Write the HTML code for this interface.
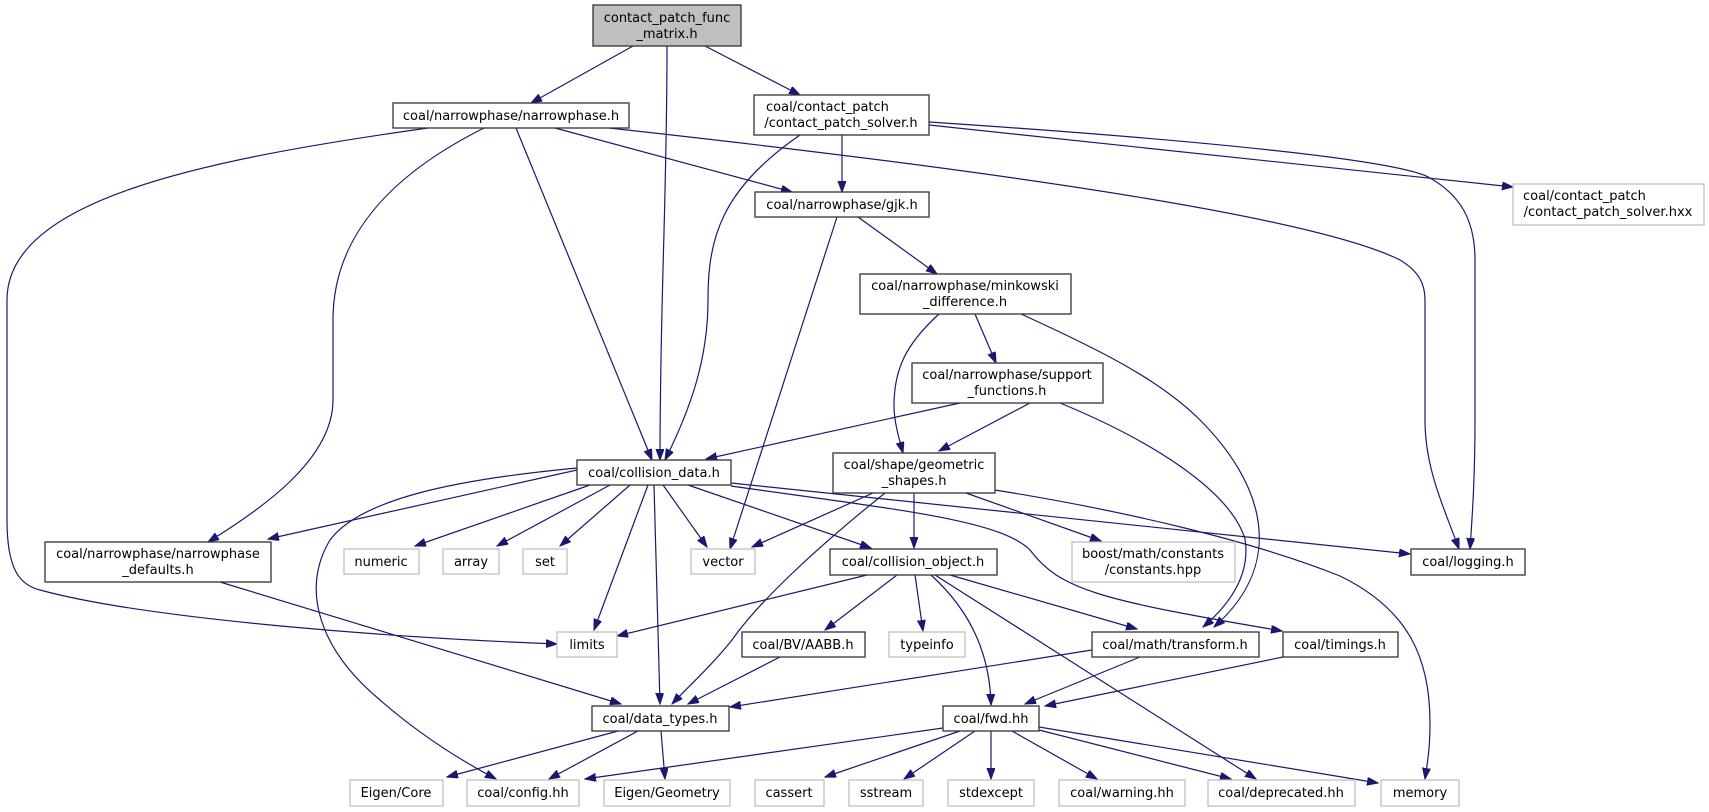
<!DOCTYPE html>
<html><head><meta charset="utf-8"><style>
html,body{margin:0;padding:0;background:#fff;}
svg{display:block;}
text{font-family:"DejaVu Sans","Liberation Sans",sans-serif;font-size:13px;fill:#000;text-anchor:middle;}
.n{fill:#fff;stroke:#333;stroke-width:1.3;}
.g{fill:#fff;stroke:#bfbfbf;stroke-width:1.3;}
.r{fill:#bfbfbf;stroke:#333;stroke-width:1.3;}
path.e{fill:none;stroke:#191970;stroke-width:1.2;marker-end:url(#a);}
</style></head><body>
<svg width="1709" height="812" viewBox="0 0 1709 812" xmlns="http://www.w3.org/2000/svg">
<defs><marker id="a" markerUnits="userSpaceOnUse" markerWidth="12" markerHeight="10" refX="11" refY="4" orient="auto"><path d="M0,0 L11,4 L0,8 z" fill="#191970" stroke="#191970"/></marker></defs>
<!-- edges -->
<path class="e" d="M633,46 L531,103"/>
<path class="e" d="M667,46 C667,200 660,300 660,460"/>
<path class="e" d="M705,46 L800,95"/>
<path class="e" d="M428,128 C200,160 7,200 7,300 L7,520 C7,570 20,585 40,590 C150,620 400,638 557,644"/>
<path class="e" d="M484,128 C400,170 333,230 333,320 L333,400 C333,460 260,510 208,542"/>
<path class="e" d="M516,128 L652,460"/>
<path class="e" d="M555,128 L792,192"/>
<path class="e" d="M609,128 C900,160 1300,210 1400,260 C1420,272 1425,285 1425,300 L1425,420 C1425,470 1445,510 1459,549"/>
<path class="e" d="M800,135 C720,190 708,240 708,300 C708,360 690,410 665,460"/>
<path class="e" d="M842,135 L842,192"/>
<path class="e" d="M929,122 C1200,140 1400,160 1430,178 C1460,195 1475,220 1475,260 L1475,420 C1475,480 1472,520 1470,549"/>
<path class="e" d="M929,125 L1513,187"/>
<path class="e" d="M837,217 L730,549"/>
<path class="e" d="M858,217 L937,274"/>
<path class="e" d="M939,314 C905,345 894,370 894,406 C894,420 898,435 903,453"/>
<path class="e" d="M975,314 L996,363"/>
<path class="e" d="M1021,314 C1100,350 1160,380 1200,420 C1260,480 1290,560 1214,627"/>
<path class="e" d="M1060,403 C1150,440 1230,490 1245,539 C1250,570 1235,600 1203,627"/>
<path class="e" d="M960,403 L706,459"/>
<path class="e" d="M1030,403 L939,451"/>
<path class="e" d="M577,470 L268,539"/>
<path class="e" d="M590,485 L415,546"/>
<path class="e" d="M610,485 L497,546"/>
<path class="e" d="M630,485 L560,546"/>
<path class="e" d="M577,468 C450,480 360,500 330,540 C300,590 320,650 380,700 C420,735 460,760 496,779"/>
<path class="e" d="M648,485 L594,630"/>
<path class="e" d="M654,485 L660,704"/>
<path class="e" d="M663,485 L707,547"/>
<path class="e" d="M688,485 L871,548"/>
<path class="e" d="M731,483 L1410,554"/>
<path class="e" d="M731,486 C900,510 1000,520 1030,550 C1060,590 1100,600 1282,631"/>
<path class="e" d="M873,493 L752,547"/>
<path class="e" d="M885,493 C820,545 760,600 732,640 C712,665 690,685 672,704"/>
<path class="e" d="M914,493 L914,548"/>
<path class="e" d="M966,493 L1101,541"/>
<path class="e" d="M995,490 C1120,510 1250,540 1340,576 C1410,610 1430,660 1430,723 C1430,750 1427,765 1425,779"/>
<path class="e" d="M867,575 L617,636"/>
<path class="e" d="M897,575 L825,630"/>
<path class="e" d="M915,575 L923,631"/>
<path class="e" d="M931,575 C975,615 990,660 991,705"/>
<path class="e" d="M950,575 L1137,629"/>
<path class="e" d="M935,575 L1256,779"/>
<path class="e" d="M780,657 L688,704"/>
<path class="e" d="M1092,650 L730,707"/>
<path class="e" d="M1140,657 L1025,704"/>
<path class="e" d="M1283,657 L1045,706"/>
<path class="e" d="M220,582 L621,704"/>
<path class="e" d="M618,731 L447,777"/>
<path class="e" d="M638,731 L549,779"/>
<path class="e" d="M661,731 L665,779"/>
<path class="e" d="M943,728 L585,779"/>
<path class="e" d="M960,731 L825,777"/>
<path class="e" d="M975,731 L904,779"/>
<path class="e" d="M991,731 L991,779"/>
<path class="e" d="M1012,731 L1097,779"/>
<path class="e" d="M1039,730 L1231,779"/>
<path class="e" d="M1039,727 L1378,783"/>
<!-- nodes -->
<rect class="r" x="593" y="5" width="148" height="41"/><text x="667" y="22">contact_patch_func</text><text x="667" y="38">_matrix.h</text>
<rect class="n" x="393" y="103" width="236" height="25"/><text x="511" y="120">coal/narrowphase/narrowphase.h</text>
<rect class="n" x="754" y="95" width="175" height="40"/><text x="841" y="111" style="text-anchor:start" dx="-75">coal/contact_patch</text><text x="841" y="127">/contact_patch_solver.h</text>
<rect class="g" x="1513" y="184" width="191" height="41"/><text x="1606" y="200" style="text-anchor:start" dx="-83">coal/contact_patch</text><text x="1608" y="216">/contact_patch_solver.hxx</text>
<rect class="n" x="755" y="192" width="174" height="25"/><text x="842" y="209">coal/narrowphase/gjk.h</text>
<rect class="n" x="860" y="274" width="211" height="40"/><text x="965" y="290">coal/narrowphase/minkowski</text><text x="965" y="306">_difference.h</text>
<rect class="n" x="912" y="363" width="191" height="40"/><text x="1007" y="379">coal/narrowphase/support</text><text x="1007" y="395">_functions.h</text>
<rect class="n" x="577" y="460" width="154" height="25"/><text x="654" y="477">coal/collision_data.h</text>
<rect class="n" x="833" y="453" width="162" height="40"/><text x="914" y="469">coal/shape/geometric</text><text x="914" y="485">_shapes.h</text>
<rect class="n" x="45" y="542" width="226" height="40"/><text x="158" y="558">coal/narrowphase/narrowphase</text><text x="158" y="574">_defaults.h</text>
<rect class="g" x="344" y="549" width="75" height="25"/><text x="381" y="566">numeric</text>
<rect class="g" x="443" y="549" width="56" height="25"/><text x="471" y="566">array</text>
<rect class="g" x="523" y="549" width="44" height="25"/><text x="545" y="566">set</text>
<rect class="g" x="691" y="549" width="64" height="25"/><text x="723" y="566">vector</text>
<rect class="n" x="830" y="549" width="167" height="26"/><text x="913" y="566">coal/collision_object.h</text>
<rect class="g" x="1072" y="542" width="163" height="40"/><text x="1153" y="558">boost/math/constants</text><text x="1153" y="574">/constants.hpp</text>
<rect class="n" x="1411" y="549" width="114" height="26"/><text x="1468" y="566">coal/logging.h</text>
<rect class="g" x="557" y="632" width="60" height="25"/><text x="587" y="649">limits</text>
<rect class="n" x="742" y="632" width="123" height="25"/><text x="803" y="649">coal/BV/AABB.h</text>
<rect class="g" x="889" y="632" width="76" height="25"/><text x="927" y="649">typeinfo</text>
<rect class="n" x="1092" y="632" width="167" height="25"/><text x="1175" y="649">coal/math/transform.h</text>
<rect class="n" x="1283" y="632" width="115" height="25"/><text x="1340" y="649">coal/timings.h</text>
<rect class="n" x="592" y="706" width="137" height="25"/><text x="660" y="723">coal/data_types.h</text>
<rect class="n" x="943" y="706" width="96" height="25"/><text x="991" y="723">coal/fwd.hh</text>
<rect class="g" x="350" y="780" width="93" height="26"/><text x="396" y="797">Eigen/Core</text>
<rect class="g" x="467" y="780" width="112" height="26"/><text x="523" y="797">coal/config.hh</text>
<rect class="g" x="604" y="780" width="126" height="26"/><text x="667" y="797">Eigen/Geometry</text>
<rect class="g" x="755" y="780" width="69" height="26"/><text x="789" y="797">cassert</text>
<rect class="g" x="849" y="780" width="74" height="26"/><text x="886" y="797">sstream</text>
<rect class="g" x="948" y="780" width="86" height="26"/><text x="991" y="797">stdexcept</text>
<rect class="g" x="1059" y="780" width="126" height="26"/><text x="1122" y="797">coal/warning.hh</text>
<rect class="g" x="1208" y="780" width="147" height="26"/><text x="1281" y="797">coal/deprecated.hh</text>
<rect class="g" x="1381" y="780" width="78" height="26"/><text x="1420" y="797">memory</text>
</svg>
</body></html>
